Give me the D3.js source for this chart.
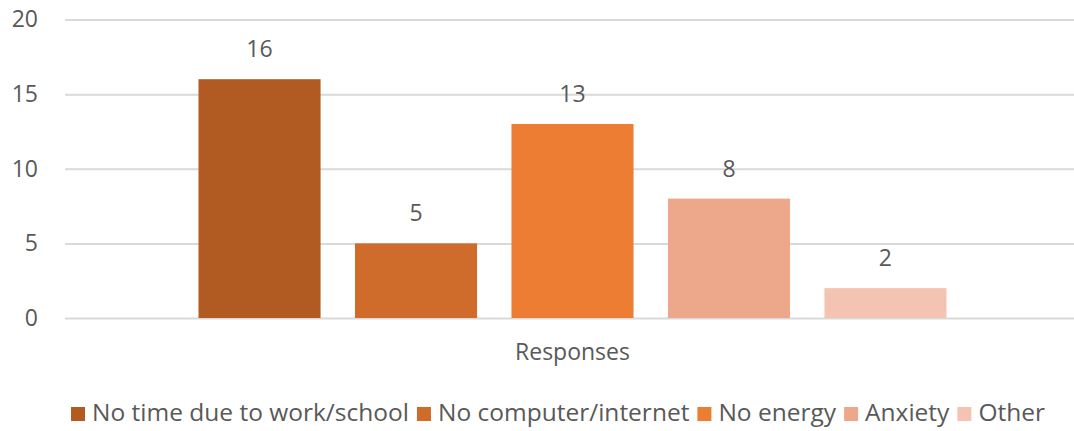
<!DOCTYPE html>
<html>
<head>
<meta charset="utf-8">
<script src="https://cdn.jsdelivr.net/npm/d3@7"></script>
<style>
  body { margin: 0; background: #fff; }
  svg text { font-family: "Open Sans", "Noto Sans", sans-serif; fill: #595959; }
</style>
</head>
<body>
<div id="chart"></div>
<script>
// data
const categories = ["Responses"];
const seriesNames = ["No time due to work/school", "No computer/internet", "No energy", "Anxiety", "Other"];
const seriesValues = [16, 5, 13, 8, 2];
const seriesColors = ["#b15b22", "#d06c2b", "#ec7d33", "#eda78a", "#f4c3b1"];
const yTicks = [0, 5, 10, 15, 20];

const width = 1074;
const height = 431;
const fs = 23;
const legendFs = 24.5;

const svg = d3.select("#chart").append("svg")
  .attr("width", width)
  .attr("height", height);

svg.append("rect").attr("width", width).attr("height", height).attr("fill", "#fff");

// scales
const y = d3.scaleLinear().domain([0, 20]).range([318, 19.5]);
const x0 = d3.scaleBand().domain(categories).range([65, 1080]).paddingInner(0).paddingOuter(0.1785);
const x1 = d3.scaleBand().domain(seriesNames).range([0, x0.bandwidth()]).paddingInner(0.22).paddingOuter(0);

// gridlines + y labels
const yAxis = d3.axisLeft(y).tickValues(yTicks).tickSize(-(width - 65)).tickPadding(27);
const gy = svg.append("g").attr("transform", "translate(65,0)").call(yAxis);
gy.select(".domain").remove();
gy.selectAll(".tick line").attr("stroke", "#d9d9d9").attr("stroke-width", 2);
gy.selectAll(".tick text").attr("font-size", fs).style("fill", "#595959")
  .attr("font-family", "\"Open Sans\", sans-serif");

// bars
const grp = svg.append("g").attr("transform", `translate(${x0("Responses")},0)`);
grp.selectAll("rect.bar")
  .data(seriesNames)
  .join("rect")
  .attr("class", "bar")
  .attr("x", d => x1(d))
  .attr("width", x1.bandwidth())
  .attr("y", (d, i) => y(seriesValues[i]))
  .attr("height", (d, i) => y(0) - y(seriesValues[i]))
  .attr("fill", (d, i) => seriesColors[i]);

// value labels
grp.selectAll("text.val")
  .data(seriesNames)
  .join("text")
  .attr("class", "val")
  .attr("x", d => x1(d) + x1.bandwidth() / 2)
  .attr("y", (d, i) => y(seriesValues[i]) - 22)
  .attr("text-anchor", "middle")
  .attr("font-size", fs)
  .text((d, i) => seriesValues[i]);

// category label
svg.append("text")
  .attr("x", x0("Responses") + x0.bandwidth() / 2)
  .attr("y", 360)
  .attr("text-anchor", "middle")
  .attr("font-size", fs)
  .text(categories[0]);

// legend: flow items, then center the row
const lg = svg.append("g");
let cx = 0;
seriesNames.forEach((name, i) => {
  const g = lg.append("g").attr("transform", `translate(${cx},0)`);
  g.append("rect").attr("x", 0).attr("y", 407).attr("width", 14).attr("height", 14).attr("fill", seriesColors[i]);
  const t = g.append("text").attr("x", 21).attr("y", 421).attr("font-size", legendFs).text(name);
  cx += 21 + t.node().getComputedTextLength() + 8;
});
const legendW = cx - 8;
lg.attr("transform", `translate(${558 - legendW / 2},0)`);
</script>
</body>
</html>
